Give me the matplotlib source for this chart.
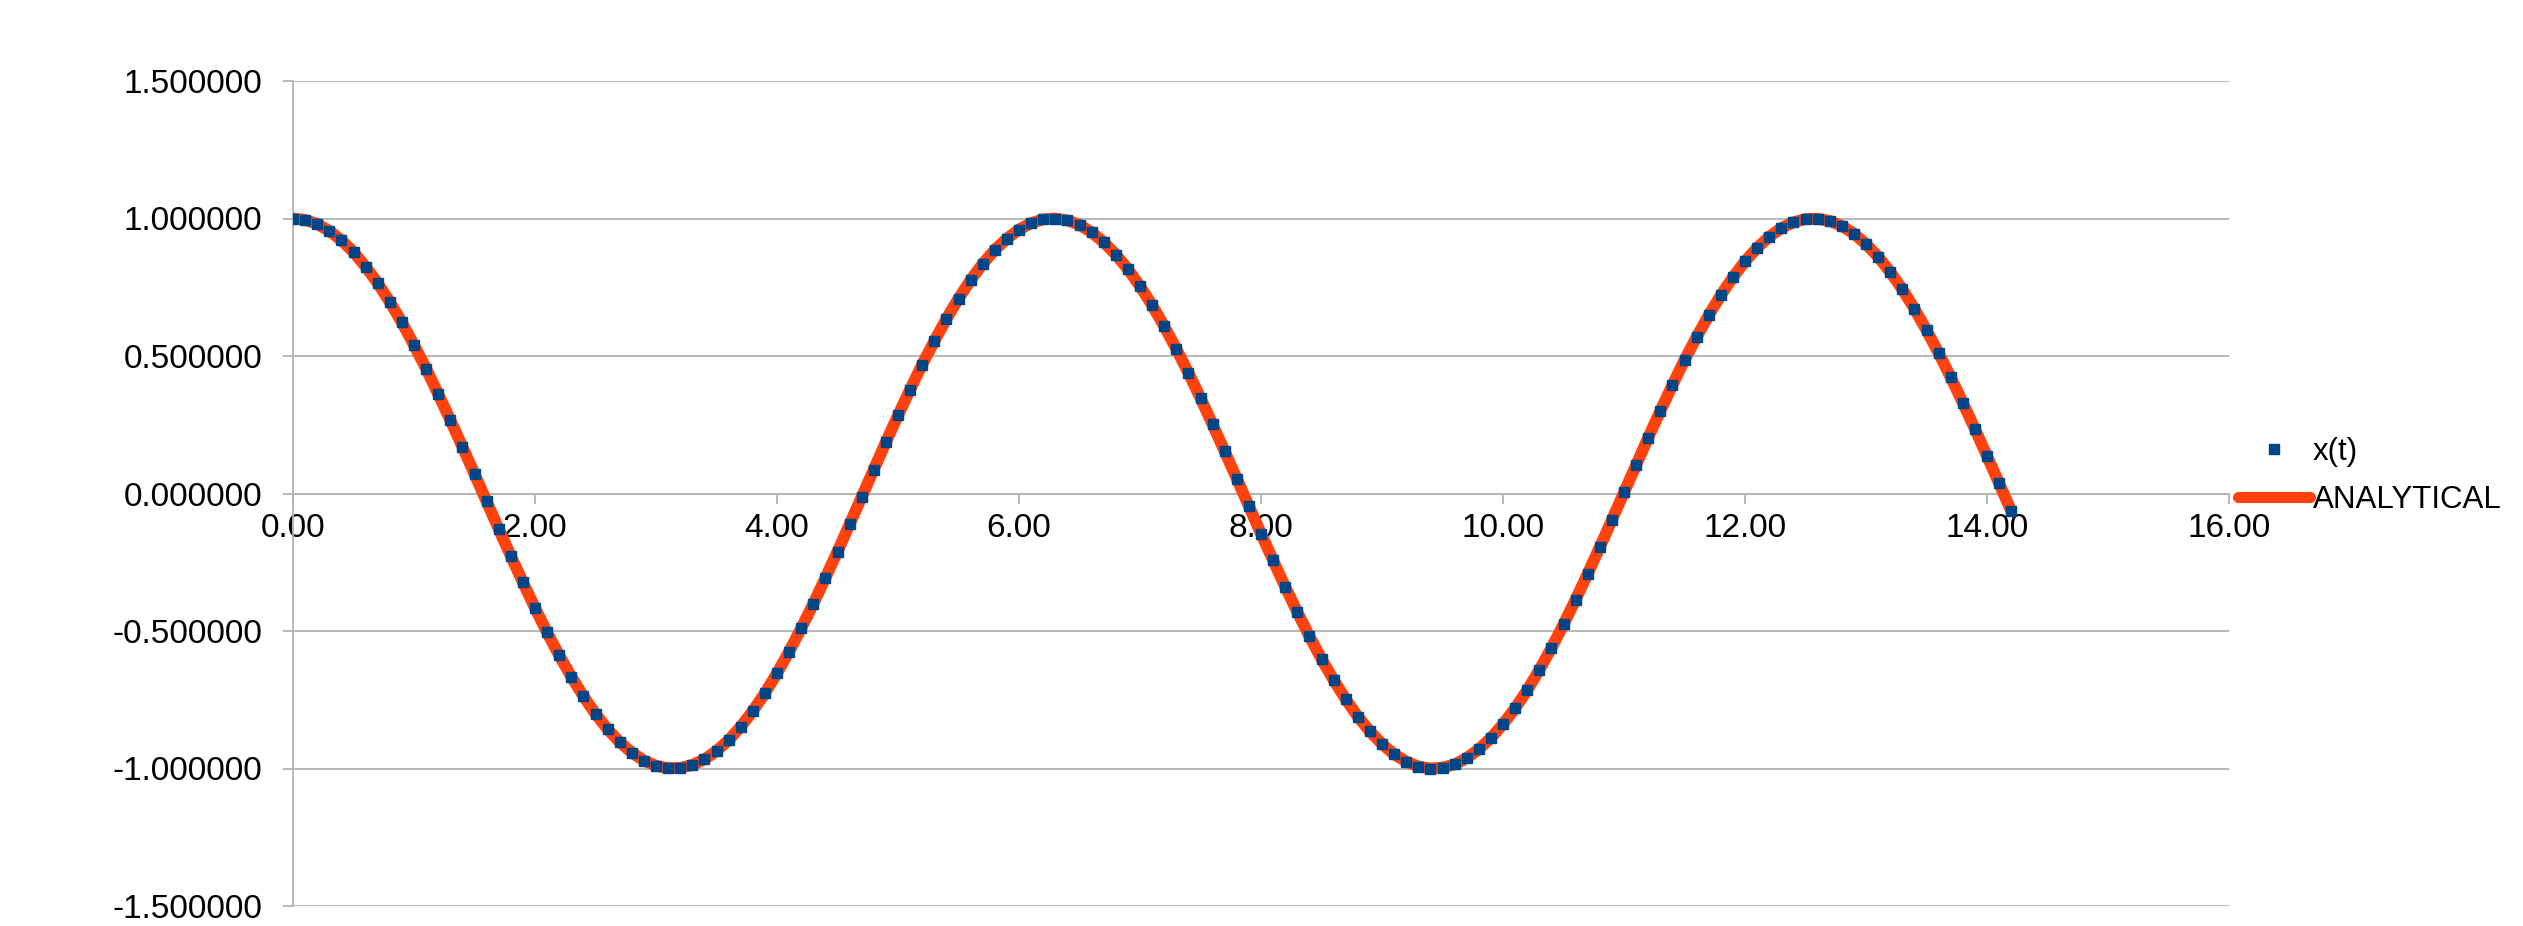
import matplotlib
matplotlib.use("Agg")
import matplotlib.pyplot as plt
from matplotlib.ticker import FormatStrFormatter

plt.rcParams['font.family'] = ['Liberation Sans', 'DejaVu Sans']

# --- data ---
t_values = [
    0.0, 0.1, 0.2, 0.3, 0.4, 0.5, 0.6, 0.7, 0.8, 0.9,
    1.0, 1.1, 1.2, 1.3, 1.4, 1.5, 1.6, 1.7, 1.8, 1.9,
    2.0, 2.1, 2.2, 2.3, 2.4, 2.5, 2.6, 2.7, 2.8, 2.9,
    3.0, 3.1, 3.2, 3.3, 3.4, 3.5, 3.6, 3.7, 3.8, 3.9,
    4.0, 4.1, 4.2, 4.3, 4.4, 4.5, 4.6, 4.7, 4.8, 4.9,
    5.0, 5.1, 5.2, 5.3, 5.4, 5.5, 5.6, 5.7, 5.8, 5.9,
    6.0, 6.1, 6.2, 6.3, 6.4, 6.5, 6.6, 6.7, 6.8, 6.9,
    7.0, 7.1, 7.2, 7.3, 7.4, 7.5, 7.6, 7.7, 7.8, 7.9,
    8.0, 8.1, 8.2, 8.3, 8.4, 8.5, 8.6, 8.7, 8.8, 8.9,
    9.0, 9.1, 9.2, 9.3, 9.4, 9.5, 9.6, 9.7, 9.8, 9.9,
    10.0, 10.1, 10.2, 10.3, 10.4, 10.5, 10.6, 10.7, 10.8, 10.9,
    11.0, 11.1, 11.2, 11.3, 11.4, 11.5, 11.6, 11.7, 11.8, 11.9,
    12.0, 12.1, 12.2, 12.3, 12.4, 12.5, 12.6, 12.7, 12.8, 12.9,
    13.0, 13.1, 13.2, 13.3, 13.4, 13.5, 13.6, 13.7, 13.8, 13.9,
    14.0, 14.1, 14.2,
]

# numerical solution x(t)
x_numeric = [
    1.000, 0.995, 0.980, 0.955, 0.921, 0.878, 0.825, 0.765, 0.697, 0.622,
    0.540, 0.454, 0.362, 0.267, 0.170, 0.071, -0.029, -0.129, -0.227, -0.323,
    -0.416, -0.505, -0.589, -0.666, -0.737, -0.801, -0.857, -0.904, -0.942, -0.971,
    -0.990, -0.999, -0.998, -0.987, -0.967, -0.936, -0.897, -0.848, -0.791, -0.726,
    -0.654, -0.575, -0.490, -0.401, -0.307, -0.211, -0.112, -0.012, 0.087, 0.187,
    0.284, 0.378, 0.469, 0.554, 0.635, 0.709, 0.776, 0.835, 0.886, 0.927,
    0.960, 0.983, 0.997, 1.000, 0.993, 0.977, 0.950, 0.914, 0.869, 0.816,
    0.754, 0.685, 0.608, 0.526, 0.439, 0.347, 0.251, 0.153, 0.054, -0.046,
    -0.146, -0.243, -0.339, -0.431, -0.519, -0.602, -0.678, -0.748, -0.811, -0.865,
    -0.911, -0.948, -0.975, -0.993, -1.000, -0.997, -0.985, -0.962, -0.930, -0.889,
    -0.839, -0.781, -0.715, -0.642, -0.562, -0.476, -0.386, -0.292, -0.195, -0.096,
    0.004, 0.104, 0.203, 0.300, 0.394, 0.485, 0.569, 0.648, 0.721, 0.786,
    0.844, 0.893, 0.934, 0.965, 0.986, 0.998, 0.999, 0.991, 0.973, 0.945,
    0.907, 0.861, 0.806, 0.743, 0.672, 0.594, 0.511, 0.423, 0.330, 0.235,
    0.136, 0.037, -0.063,
]

# analytical curve lies on top of the numerical points
x_analytical = list(x_numeric)

series_labels = ['x(t)', 'ANALYTICAL']
x_ticks = [0, 2, 4, 6, 8, 10, 12, 14, 16]
y_ticks = [-1.5, -1.0, -0.5, 0.0, 0.5, 1.0, 1.5]

# --- figure ---
W, H = 2523, 926
fig = plt.figure(figsize=(W / 100, H / 100), dpi=100)
ax = fig.add_axes([293 / W, 1 - 906 / H, (2229 - 293) / W, (906 - 81) / H])

grey = '#b3b3b3'
FS = 24

ax.plot(t_values, x_analytical, color='#ff420e', lw=8.5, solid_capstyle='round',
        label=series_labels[1], zorder=3)
ax.plot(t_values, x_numeric, ls='none', marker='s', ms=6.5, color='#004586',
        label=series_labels[0], zorder=4)

ax.set_xlim(0, 16)
ax.set_ylim(-1.5, 1.5)
ax.set_xticks(x_ticks)
ax.set_yticks(y_ticks)
ax.xaxis.set_major_formatter(FormatStrFormatter('%.2f'))
ax.yaxis.set_major_formatter(FormatStrFormatter('%.6f'))

ax.grid(axis='y', color=grey, lw=1.3, zorder=0)
ax.set_axisbelow(True)
for s in ['top', 'right']:
    ax.spines[s].set_visible(False)
ax.spines['bottom'].set_position(('data', 0))
ax.spines['bottom'].set_color(grey)
ax.spines['left'].set_color(grey)
ax.spines['bottom'].set_linewidth(1.3)
ax.spines['left'].set_linewidth(1.3)

ax.tick_params(axis='x', direction='out', length=7.2, width=1.3, color=grey,
               labelsize=FS, pad=7)
ax.tick_params(axis='y', direction='out', length=7.2, width=1.3, color=grey,
               labelsize=FS, pad=15)

# legend on the right, x(t) first
h, l = ax.get_legend_handles_labels()
order = [1, 0]
leg = fig.legend([h[i] for i in order], [l[i] for i in order],
                 loc='center left', bbox_to_anchor=(2238 / W, 1 - 476 / H),
                 frameon=False, fontsize=22.5, borderpad=0, borderaxespad=0,
                 handlelength=2.3, handletextpad=0.1, labelspacing=0.6)
leg.get_lines()[1].set_linewidth(8)

fig.savefig('out.png', dpi=100)
